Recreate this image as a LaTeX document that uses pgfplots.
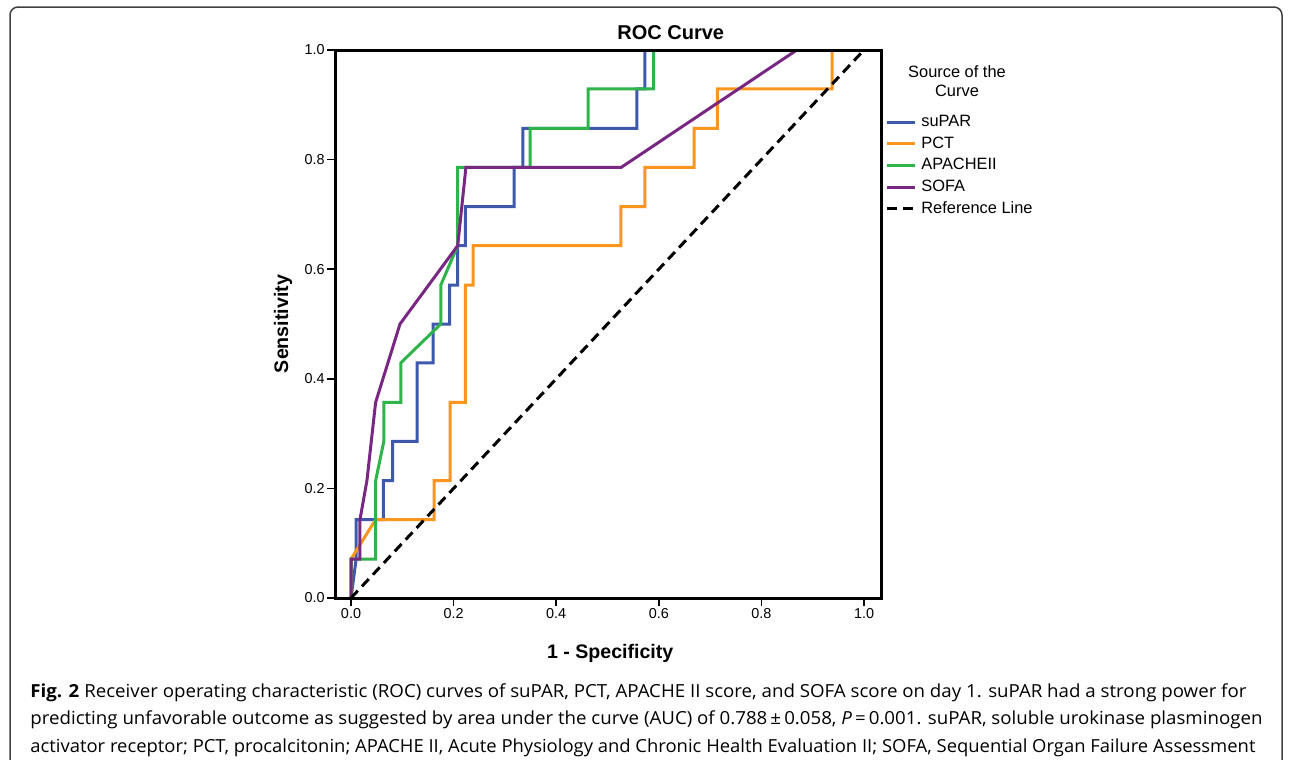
\documentclass[border=0pt]{standalone}
\usepackage{graphicx}
\usepackage{pgfplots}
\pgfplotsset{compat=1.18}
\usepackage{fontspec}
\setmainfont{Liberation Sans}
\newfontfamily\capfont{Open Sans}

\definecolor{cblue}{RGB}{62,88,172}
\definecolor{corange}{RGB}{250,150,30}
\definecolor{cgreen}{RGB}{46,180,75}
\definecolor{cpurple}{RGB}{120,40,130}

\begin{document}
\begin{tikzpicture}
\path[use as bounding box] (0pt,0pt) rectangle (646pt,-380pt);
\draw[line width=0.75pt, black!75, rounded corners=4pt]
  (5pt,-420pt) -- (5pt,-3.5pt) -- (641pt,-3.5pt) -- (641pt,-420pt);

\begin{axis}[
  scale only axis, width=273pt, height=274pt,
  at={(167.5pt,-299pt)}, anchor=south west,
  xmin=-0.0312, xmax=1.0331, ymin=0, ymax=1,
  axis on top,
  axis line style={line width=1.5pt},
  xtick={0,0.2,0.4,0.6,0.8,1}, ytick={0,0.2,0.4,0.6,0.8,1},
  tick align=outside, xtick pos=bottom, ytick pos=left,
  major tick length=4pt,
  tick style={line width=0.8pt, black},
  ticklabel style={font=\fontsize{7.2}{8}\selectfont, inner sep=1pt,
    /pgf/number format/fixed, /pgf/number format/fixed zerofill,
    /pgf/number format/precision=1},
  /pgf/number format/assume math mode=true,
  xlabel={1 - Specificity},
  xlabel style={at={(axis description cs:0.504,-0.1004)}, anchor=center,
    font=\bfseries\fontsize{9.8}{11}\selectfont},
  ylabel={Sensitivity},
  ylabel style={at={(axis description cs:-0.0952,0.5)}, anchor=center,
    font=\bfseries\fontsize{9.8}{11}\selectfont},
  title={ROC Curve},
  title style={at={(axis description cs:0.615,1.031)}, anchor=center, yshift=-6pt,
    font=\bfseries\fontsize{10}{12}\selectfont},
  legend style={at={(axis description cs:1.0073,0.883)}, anchor=north west,
    draw=none, fill=none, font=\fontsize{8.2}{9}\selectfont,
    inner sep=0pt, row sep=3.35pt, column sep=2.5pt,
    nodes={inner sep=0pt, text height=6pt, text depth=1.5pt}},
  legend cell align=left,
  legend image code/.code={\draw[#1] (0pt,0pt) -- (14pt,0pt);},
  every axis plot/.append style={line width=1.5pt},
]
% suPAR
\addplot[cblue] coordinates {
(0,0) (0.010,0.071) (0.010,0.143) (0.063,0.143) (0.063,0.214) (0.081,0.214)
(0.081,0.286) (0.129,0.286) (0.129,0.429) (0.160,0.429) (0.160,0.5)
(0.192,0.5) (0.192,0.571) (0.208,0.571) (0.208,0.643) (0.223,0.643)
(0.223,0.714) (0.318,0.714) (0.318,0.786) (0.335,0.786) (0.335,0.857)
(0.557,0.857) (0.557,0.929) (0.573,0.929) (0.573,1) (1,1)};
\addlegendentry{suPAR}
% PCT
\addplot[corange] coordinates {
(0,0) (0,0.071) (0.048,0.143) (0.162,0.143) (0.162,0.214) (0.193,0.214)
(0.193,0.357) (0.223,0.357) (0.223,0.571) (0.238,0.571) (0.238,0.643)
(0.526,0.643) (0.526,0.714) (0.573,0.714) (0.573,0.786) (0.669,0.786)
(0.669,0.857) (0.714,0.857) (0.714,0.929) (0.938,0.929) (0.938,1) (1,1)};
\addlegendentry{PCT}
% APACHE II
\addplot[cgreen] coordinates {
(0,0) (0,0.071) (0.048,0.071) (0.048,0.214) (0.064,0.286) (0.064,0.357)
(0.097,0.357) (0.097,0.429) (0.175,0.5) (0.175,0.571) (0.208,0.643)
(0.208,0.786) (0.349,0.786) (0.349,0.857) (0.462,0.857) (0.462,0.929)
(0.590,0.929) (0.590,1) (1,1)};
\addlegendentry{APACHEII}
% SOFA
\addplot[cpurple] coordinates {
(0,0) (0,0.071) (0.0175,0.071) (0.0175,0.143) (0.031,0.214) (0.048,0.357)
(0.0955,0.5) (0.208,0.643) (0.224,0.786) (0.527,0.786) (0.869,1) (1,1)};
\addlegendentry{SOFA}
% reference line
\addplot[black, dash pattern=on 5pt off 3pt] coordinates {(0,0) (1,1)};
\addlegendentry{Reference Line}
\end{axis}

\node[align=center, font=\fontsize{8.2}{9.5}\selectfont] at (478.5pt,-40.75pt)
  {Source of the\\Curve};

\begin{scope}[every node/.style={anchor=base west, inner sep=0pt, font=\capfont\fontsize{9}{11}\selectfont}]
\node at (15pt,-348.5pt) {\resizebox{608pt}{\height}{\textbf{Fig. 2} Receiver operating characteristic (ROC) curves of suPAR, PCT, APACHE II score, and SOFA score on day 1. suPAR had a strong power for}};
\node at (15pt,-362.25pt) {\resizebox{616pt}{\height}{predicting unfavorable outcome as suggested by area under the curve (AUC) of 0.788\,±\,0.058, \textit{P}\,=\,0.001. suPAR, soluble urokinase plasminogen}};
\node at (15pt,-376pt) {\resizebox{612.5pt}{\height}{activator receptor; PCT, procalcitonin; APACHE II, Acute Physiology and Chronic Health Evaluation II; SOFA, Sequential Organ Failure Assessment}};
\end{scope}
\end{tikzpicture}
\end{document}
